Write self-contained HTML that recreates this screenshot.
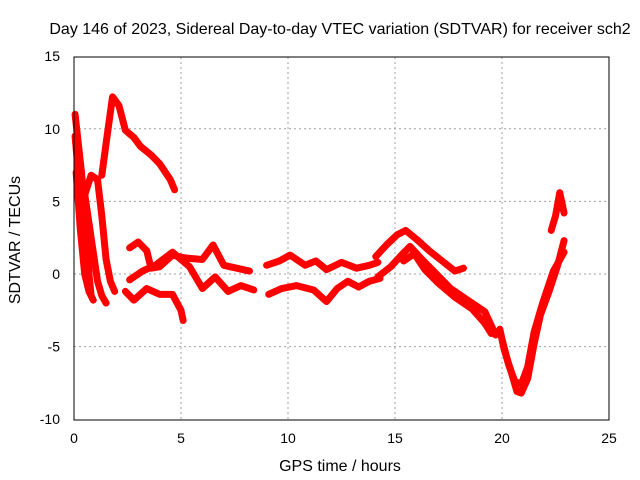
<!DOCTYPE html>
<html><head><meta charset="utf-8"><style>
body{margin:0;background:#fff}
svg{display:block;font-family:"Liberation Sans",sans-serif}
</style></head><body>
<svg width="640" height="480">
<rect x="0" y="0" width="640" height="480" fill="#fff"/>
<g id="grid"></g>
<g id="series"></g>
<rect x="74" y="57" width="535" height="363" fill="none" stroke="#000" stroke-width="1"/>
<g id="ticks" font-size="14" fill="#000"></g>
<text x="340" y="34" text-anchor="middle" font-size="16">Day 146 of 2023, Sidereal Day-to-day VTEC variation (SDTVAR) for receiver sch2</text>
<text x="340" y="471" text-anchor="middle" font-size="16">GPS time / hours</text>
<text x="0" y="0" transform="translate(20,240) rotate(-90)" text-anchor="middle" font-size="16">SDTVAR / TECUs</text>
</svg>
<script>
const xTicks=[0,5,10,15,20,25];
const yTicks=[-10,-5,0,5,10,15];
const trackTopArc=[[1.3,6.8],[1.5,9],[1.8,12.2],[2.1,11.6],[2.4,9.9],[2.8,9.4],[3.1,8.8],[3.6,8.2],[4.0,7.6],[4.5,6.5],[4.7,5.8]];
const trackSteep1=[[0.05,11],[0.2,9],[0.35,7],[0.5,4.5],[0.6,2],[0.7,0],[0.8,-1.5]];
const trackSteep2=[[0.05,9.5],[0.2,7],[0.4,5],[0.8,6.8],[1.1,6.5],[1.3,4],[1.5,1],[1.7,-0.5],[1.9,-1.2]];
const trackSteep3=[[0.1,7],[0.3,3],[0.5,0],[0.7,-1.2],[0.9,-1.8]];
const trackSteep4=[[0.5,5.5],[0.7,3.5],[0.9,1.5],[1.1,-0.5],[1.3,-1.5],[1.5,-2]];
const trackLow=[[2.4,-1.2],[2.8,-1.8],[3.4,-1.0],[4.0,-1.4],[4.6,-1.4],[5.0,-2.5],[5.1,-3.2]];
const trackUpper=[[2.6,1.8],[3.0,2.2],[3.4,1.6],[3.6,0.4],[4.0,0.5],[4.6,1.3],[5.2,1.1],[6.0,1.0],[6.5,2.0],[7.0,0.6],[7.6,0.4],[8.2,0.2]];
const trackMid=[[2.6,-0.4],[3.2,0.2],[3.8,0.6],[4.6,1.5],[5.4,0.5],[6.0,-1.0],[6.6,-0.2],[7.2,-1.2],[7.8,-0.8],[8.4,-1.1]];
const trackMidUp=[[9.0,0.6],[9.6,0.9],[10.1,1.3],[10.8,0.6],[11.3,0.9],[11.8,0.3],[12.5,0.8],[13.2,0.4],[13.8,0.6],[14.2,0.8]];
const trackMidLow=[[9.1,-1.4],[9.7,-1.0],[10.4,-0.8],[11.2,-1.1],[11.8,-1.9],[12.3,-1.0],[12.8,-0.5],[13.3,-0.9],[13.8,-0.5],[14.3,-0.3]];
const trackArc1=[[14.1,1.2],[14.6,2.0],[15.1,2.7],[15.5,3.0],[16.0,2.4],[16.6,1.6],[17.2,0.9],[17.8,0.2],[18.2,0.4]];
const trackArc2=[[14.2,-0.2],[14.8,0.5],[15.3,1.3],[15.7,1.9],[16.2,1.1],[16.8,0.2],[17.6,-1.0],[18.5,-1.9],[19.2,-2.6],[19.7,-4.2]];
const trackArc3=[[15.4,0.9],[15.9,1.4],[16.4,0.3],[17.0,-0.6],[17.8,-1.6],[18.6,-2.4],[19.2,-3.4],[19.5,-4.1]];
const trackV=[[19.9,-3.8],[20.1,-5.2],[20.4,-6.6],[20.7,-8.1],[20.9,-8.2],[21.2,-7.2],[21.5,-4.8],[21.8,-2.8],[22.2,-1.2],[22.6,0.6],[22.9,2.3]];
const trackV2=[[20.0,-4.5],[20.3,-6.2],[20.6,-7.4],[20.9,-7.6],[21.2,-6.4],[21.5,-4.0],[21.9,-2.0],[22.4,0.2],[22.9,1.5]];
const trackTopRight=[[22.3,3.0],[22.5,4.0],[22.7,5.6],[22.9,4.2]];
const tracks=[trackTopArc,trackSteep1,trackSteep2,trackSteep3,trackSteep4,trackLow,trackUpper,trackMid,trackMidUp,trackMidLow,trackArc1,trackArc2,trackArc3,trackV,trackV2,trackTopRight];
const NS="http://www.w3.org/2000/svg";
const X=h=>74+h*535/25, Y=v=>274-v*363/25;
const grid=document.getElementById('grid'),ticks=document.getElementById('ticks'),ser=document.getElementById('series');
xTicks.forEach(t=>{
 if(t>0&&t<25){const l=document.createElementNS(NS,'line');
 
 
 l.setAttribute('x1',X(t));l.setAttribute('x2',X(t));l.setAttribute('y1',57);l.setAttribute('y2',420);l.setAttribute('stroke','#a0a0a0');l.setAttribute('stroke-dasharray','2,3');grid.appendChild(l);}
 const tx=document.createElementNS(NS,'text');
 
 
 tx.setAttribute('x',X(t));tx.setAttribute('y',443);tx.setAttribute('text-anchor','middle');tx.textContent=t;ticks.appendChild(tx);
});
yTicks.forEach(t=>{
 if(t>-10&&t<15){const l=document.createElementNS(NS,'line');
 
 
 l.setAttribute('x1',74);l.setAttribute('x2',609);l.setAttribute('y1',Y(t));l.setAttribute('y2',Y(t));l.setAttribute('stroke','#a0a0a0');l.setAttribute('stroke-dasharray','2,3');grid.appendChild(l);}
 const tx=document.createElementNS(NS,'text');
 
 
 tx.setAttribute('x',60);tx.setAttribute('y',Y(t)+5);tx.setAttribute('text-anchor','end');tx.textContent=t;ticks.appendChild(tx);
});
tracks.forEach(tr=>{
 const p=document.createElementNS(NS,'polyline');
 
 
 p.setAttribute('points',tr.map(d=>X(d[0])+','+Y(d[1])).join(' '));
 p.setAttribute('fill','none');p.setAttribute('stroke','#ff0000');p.setAttribute('stroke-width','7');p.setAttribute('stroke-linejoin','round');p.setAttribute('stroke-linecap','round');
 ser.appendChild(p);
});
</script>
</body></html>
